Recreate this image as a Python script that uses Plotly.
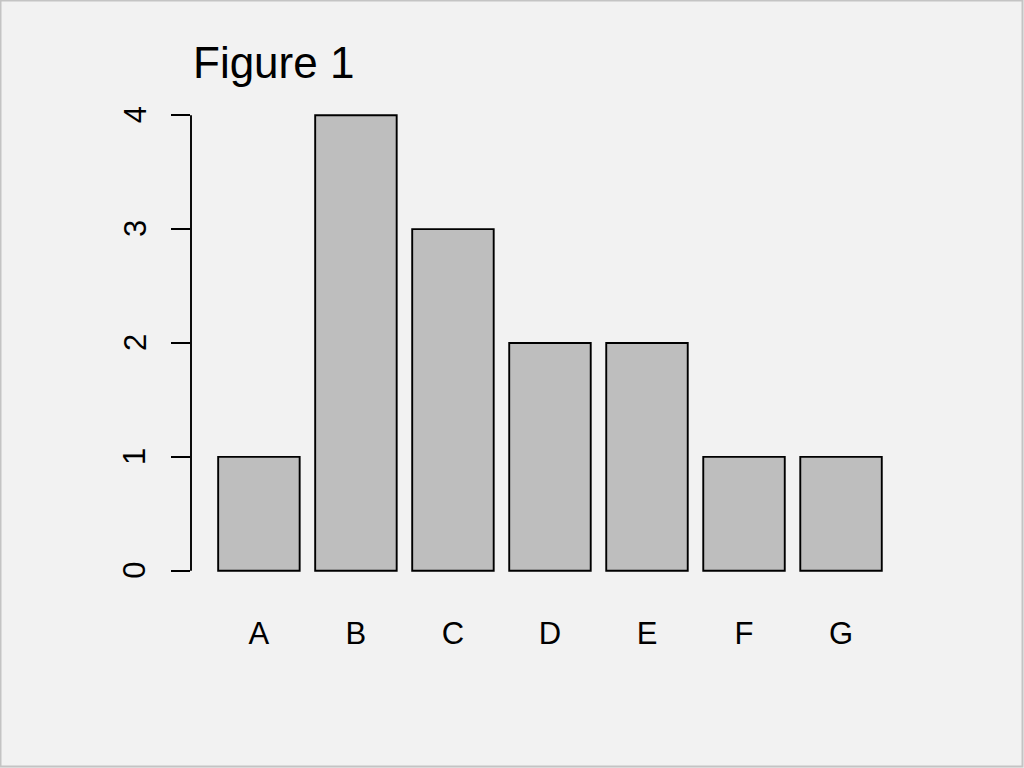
"""
Figure 1 - simple bar chart in the style of R's base barplot.
"""

import plotly.graph_objects as go

# ── Data ───────────────────────────────────────────────────────────────────
categories = ["A", "B", "C", "D", "E", "F", "G"]
counts     = [1, 4, 3, 2, 2, 1, 1]
y_ticks    = [0, 1, 2, 3, 4]

# Colours
BG     = "#f2f2f2"
BAR    = "#bebebe"
INK    = "#000000"
BORDER = "#c4c4c4"
FONT   = "Liberation Sans, Arial, sans-serif"

# ── Figure ─────────────────────────────────────────────────────────────────
fig = go.Figure()

fig.add_trace(go.Bar(
    x=categories,
    y=counts,
    marker=dict(color=BAR, line=dict(color=INK, width=1.9)),
    showlegend=False,
))

W, H = 1024, 768
L, R, T, B = 191, 117, 97, 179
pw, ph = W - L - R, H - T - B

fig.update_layout(
    width=W, height=H,
    autosize=False,
    paper_bgcolor=BG,
    plot_bgcolor=BG,
    font=dict(family=FONT, color=INK, size=31),
    margin=dict(l=L, r=R, t=T, b=B, pad=0),
    bargap=0.16,
)

fig.update_xaxes(
    type="category",
    range=[-0.70, 6.68],
    showline=False, showgrid=False, zeroline=False,
    ticks="", ticklabelstandoff=23,
    tickfont=dict(size=31),
)

fig.update_yaxes(
    range=[-0.16, 4.16],
    tickvals=y_ticks,
    showline=False, showgrid=False, zeroline=False,
    ticks="outside", ticklen=19, tickwidth=1.9, tickcolor=INK,
    showticklabels=False,
)

# y tick labels, rotated and centred on their ticks as R draws them
for v in y_ticks:
    fig.add_annotation(
        text=str(v), xref="paper", yref="y",
        x=-56 / pw, y=v, xanchor="center", yanchor="middle",
        textangle=-90, showarrow=False, font=dict(size=31, color=INK),
    )

# y axis line spans only the tick range, as in R
fig.add_shape(type="line", xref="paper", yref="y",
              x0=0, x1=0, y0=min(y_ticks), y1=max(y_ticks),
              line=dict(color=INK, width=1.9))

# thin frame round the whole picture
fig.add_shape(type="rect", xref="paper", yref="paper",
              x0=-L / pw + 0.5 / pw, x1=1 + R / pw - 1.5 / pw,
              y0=-B / ph + 1.5 / ph, y1=1 + T / ph - 0.5 / ph,
              line=dict(color=BORDER, width=2), layer="below")

fig.add_annotation(
    text="Figure 1", xref="paper", yref="paper",
    x=0, y=1 + (T - 62) / ph, xanchor="left", yanchor="middle",
    showarrow=False, font=dict(size=44, color=INK),
)

fig.write_html("out.html", config={"displayModeBar": False},
               post_script="document.body.style.margin='0';")
